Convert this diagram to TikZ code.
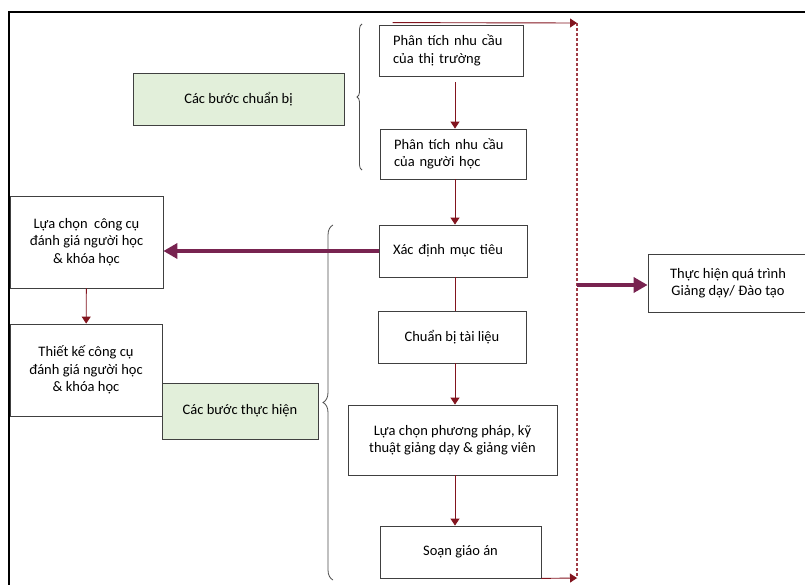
\documentclass[tikz,border=0pt]{standalone}
\usepackage{fontspec}
\setmainfont{Carlito}
\usetikzlibrary{arrows.meta,decorations.pathreplacing}

\definecolor{flowred}{RGB}{130,20,30}
\definecolor{railred}{RGB}{160,60,70}
\definecolor{bigred}{RGB}{120,35,80}
\definecolor{stagegreen}{RGB}{226,239,218}

\begin{document}
\begin{tikzpicture}
    [
        x = 1pt, y = -1pt,
        box/.style = {draw = black!75, fill = white, line width = 0.8pt, align = center,
                inner sep = 0pt, font = \fontsize{14.5}{17.5}\selectfont},
        leftbox/.style = {box, align = left, text width = #1, inner xsep = 14pt},
        stage/.style = {box, fill = stagegreen},
        flow/.style = {draw = flowred, line width = 0.9pt, -{Triangle[length=7pt,width=9pt]}},
        bigflow/.style = {draw = bigred, line width = 4pt, -{Triangle[length=14pt,width=15pt]}},
        stagebrace/.style = {decorate, decoration = {brace, amplitude = #1}, draw = black!70, line width = 0.8pt},
    ]

    \useasboundingbox (0,0) rectangle (805,585);
    \draw [line width = 1.6pt] (9,585) -- (9,12) -- (805,12);

    \node [stage, minimum width = 211pt, minimum height = 52pt] (prep) at (238.5,99) {Các bước chuẩn bị};
    \node [leftbox = 116pt, minimum height = 51pt] (market) at (451,50.5) {Phân tích nhu cầu\\của thị trường};
    \node [leftbox = 118pt, minimum height = 50pt] (learner) at (453,154) {Phân tích nhu cầu\\của người học};
    \node [leftbox = 120pt, minimum height = 52pt] (goal) at (453,251) {Xác định mục tiêu};
    \node [box, minimum width = 148pt, minimum height = 52pt] (material) at (452,337) {Chuẩn bị tài liệu};
    \node [box, minimum width = 209pt, minimum height = 70pt] (method) at (452.5,440) {Lựa chọn phương pháp, kỹ\\thuật giảng dạy \& giảng viên};
    \node [box, minimum width = 161pt, minimum height = 52pt] (plan) at (460.5,552) {Soạn giáo án};

    \node [box, minimum width = 153pt, minimum height = 92pt] (toolchoice) at (86.5,242) {Lựa chọn\ \ công cụ\\đánh giá người học\\\& khóa học};
    \node [box, minimum width = 152pt, minimum height = 92pt] (tooldesign) at (86,370) {Thiết kế công cụ\\đánh giá người học\\\& khóa học};
    \node [stage, minimum width = 156pt, minimum height = 56pt] (exec) at (240,411) {Các bước thực hiện};

    \node [box, minimum width = 160pt, minimum height = 58pt] (teach) at (728,283) {Thực hiện quá trình\\Giảng dạy/ Đào tạo};

    \coordinate (spine) at (455,0);
    \coordinate (railtop) at (577,23);
    \coordinate (railmid) at (577,285);
    \coordinate (railbot) at (577,578);

    \draw [stagebrace = 5pt] (362,170) -- (362,24);
    \draw [stagebrace = 10pt] (333,580) -- (333,225);

    \draw [flow, shorten < = 6pt] (spine |- market.south) -- (spine |- learner.north);
    \draw [flow] (spine |- learner.south) -- (spine |- goal.north);
    \draw [draw = flowred, line width = 0.9pt] (spine |- goal.south) -- (spine |- material.north);
    \draw [flow] (spine |- material.south) -- (spine |- method.north);
    \draw [flow] (spine |- method.south) -- (spine |- plan.north);
    \draw [flow] (toolchoice) -- (tooldesign);

    \draw [draw = railred, line width = 1.1pt, dash pattern = on 3pt off 2pt] (railtop) -- (railbot);
    \draw [flow] ([xshift = 14pt, yshift = 2pt]market.north west) -- (railtop);
    \draw [flow] (plan.south east) -- (railbot);

    \draw [bigflow] (goal.west) -- (goal.west -| toolchoice.east);
    \draw [bigflow] (railmid) -- (railmid -| teach.west);

\end{tikzpicture}
\end{document}
